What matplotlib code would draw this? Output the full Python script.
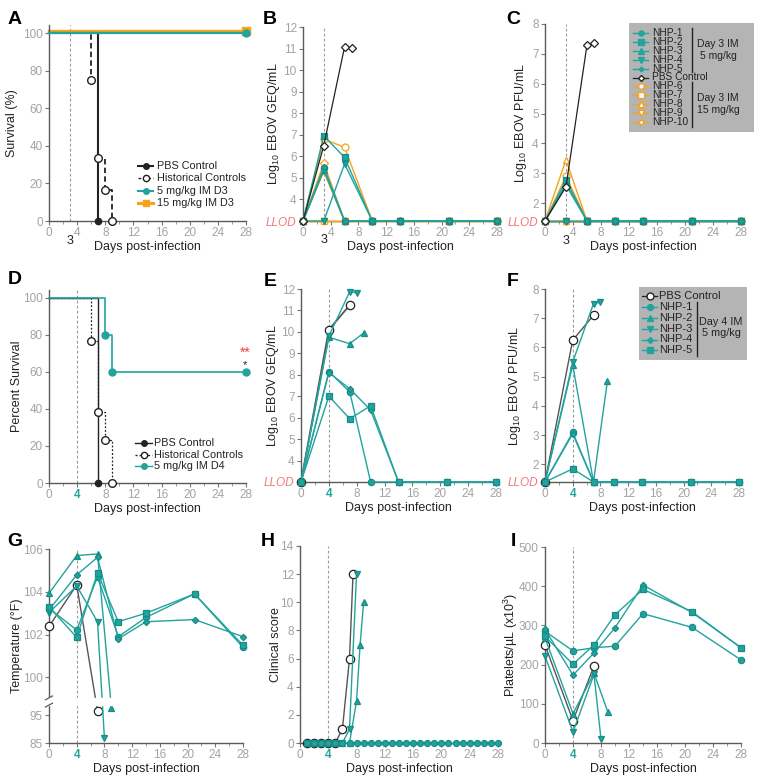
import numpy as np
import matplotlib
matplotlib.use('Agg')
import matplotlib.pyplot as plt
from matplotlib.lines import Line2D
from matplotlib.patches import Rectangle
import matplotlib.transforms as mtransforms

plt.rcParams['font.family'] = ['Liberation Sans', 'DejaVu Sans']
plt.rcParams['mathtext.default'] = 'regular'

TEAL = '#22a39e'
TEAL_E = '#178c87'
ORANGE = '#f5a21c'
BLACK = '#222222'
TICKC = '#a3a3a3'
SPINE = '#5a5a5a'
LLOD_RED = '#f07a7a'
LEG_BG = '#b4b4b4'

# ------------------------------------------------------------------ data
XTICKS = [0, 4, 8, 12, 16, 20, 24, 28]
XMINOR = [2, 6, 10, 14, 18, 22, 26]

# Panel A - survival (day 3 treatment)
A_PBS_DAYS = [0, 7]
A_PBS_SURV = [100, 0]
A_HIST_DAYS = [0, 6, 7, 8, 9]
A_HIST_SURV = [100, 75, 33.3, 16.7, 0]
A_5MG_DAYS = [0, 28]
A_5MG_SURV = [100, 100]
A_15MG_DAYS = [0, 28]
A_15MG_SURV = [100, 100]

# Panel B - GEQ (day 3 study)
B_LLOD = 3.0
B_DAYS = [0, 3, 6, 10, 14, 21, 28]
B_5MG = [[3, 5.45, 3, 3, 3, 3, 3],
         [3, 6.95, 5.95, 3, 3, 3, 3],
         [3, 5.35, 3, 3, 3, 3, 3],
         [3, 3, 5.65, 3, 3, 3, 3],
         [3, 5.5, 3, 3, 3, 3, 3]]
B_15MG = [[3, 6.8, 6.42, 3, 3, 3, 3],
          [3, 3, 3, 3, 3, 3, 3],
          [3, 5.3, 3, 3, 3, 3, 3],
          [3, 3, 3, 3, 3, 3, 3],
          [3, 5.68, 3, 3, 3, 3, 3]]
B_PBS_DAYS = [0, 3, 6, 7]
B_PBS = [3, 6.5, 11.08, 11.03]

# Panel C - PFU (day 3 study)
C_LLOD = 1.4
C_DAYS = [0, 3, 6, 10, 14, 21, 28]
C_5MG = [[1.4, 2.65, 1.4, 1.4, 1.4, 1.4, 1.4],
         [1.4, 2.78, 1.4, 1.4, 1.4, 1.4, 1.4],
         [1.4, 2.6, 1.4, 1.4, 1.4, 1.4, 1.4],
         [1.4, 1.4, 1.4, 1.4, 1.4, 1.4, 1.4],
         [1.4, 1.4, 1.4, 1.4, 1.4, 1.4, 1.4]]
C_15MG = [[1.4, 2.9, 1.4, 1.4, 1.4, 1.4, 1.4],
          [1.4, 1.4, 1.4, 1.4, 1.4, 1.4, 1.4],
          [1.4, 3.45, 1.4, 1.4, 1.4, 1.4, 1.4],
          [1.4, 1.4, 1.4, 1.4, 1.4, 1.4, 1.4],
          [1.4, 1.4, 1.4, 1.4, 1.4, 1.4, 1.4]]
C_PBS_DAYS = [0, 3, 6, 7]
C_PBS = [1.4, 2.55, 7.3, 7.35]

# Panel D - survival (day 4 treatment)
D_PBS_DAYS = [0, 7]
D_PBS_SURV = [100, 0]
D_HIST_DAYS = [0, 6, 7, 8, 9]
D_HIST_SURV = [100, 76.9, 38.5, 23.1, 0]
D_5MG_DAYS = [0, 8, 9, 28]
D_5MG_SURV = [100, 80, 60, 60]

# Panel E - GEQ (day 4 study)
E_LLOD = 3.0
E_DAYS = [0, 4, 7, 10, 14, 21, 28]
E_NHP1 = [3, 8.15, 7.2, 3, 3, 3, 3]
E_NHP2_DAYS = [0, 4, 7, 9]
E_NHP2 = [3, 9.75, 9.45, 9.95]
E_NHP3_DAYS = [0, 4, 7, 8]
E_NHP3 = [3, 9.8, 11.88, 11.82]
E_NHP4 = [3, 8.1, 7.35, 6.35, 3, 3, 3]
E_NHP5 = [3, 7.0, 5.95, 6.55, 3, 3, 3]
E_PBS_DAYS = [0, 4, 7]
E_PBS = [3, 10.1, 11.25]

# Panel F - PFU (day 4 study)
F_LLOD = 1.4
F_DAYS = [0, 4, 7, 10, 14, 21, 28]
F_NHP1 = [1.4, 3.1, 1.4, 1.4, 1.4, 1.4, 1.4]
F_NHP2_DAYS = [0, 4, 7, 9]
F_NHP2 = [1.4, 5.4, 1.4, 4.85]
F_NHP3_DAYS = [0, 4, 7, 8]
F_NHP3 = [1.4, 5.5, 7.5, 7.55]
F_NHP4 = [1.4, 3.05, 1.4, 1.4, 1.4, 1.4, 1.4]
F_NHP5 = [1.4, 1.85, 1.4, 1.4, 1.4, 1.4, 1.4]
F_PBS_DAYS = [0, 4, 7]
F_PBS = [1.4, 6.25, 7.1]

# Panel G - temperature
G_DAYS = [0, 4, 7, 10, 14, 21, 28]
G_NHP1 = [103.23, 102.21, 104.7, 101.9, 102.8, 103.9, 101.4]
G_NHP4 = [103.15, 104.79, 105.61, 101.8, 102.6, 102.7, 101.9]
G_NHP5 = [103.3, 101.87, 104.89, 102.6, 103.0, 103.9, 101.5]
G_NHP2_DAYS = [0, 4, 7, 9]
G_NHP2 = [103.93, 105.69, 105.77, 96.0]
G_NHP3_DAYS = [0, 4, 7, 8]
G_NHP3 = [103.03, 104.27, 102.6, 86.7]
G_PBS_DAYS = [0, 4, 7]
G_PBS = [102.38, 104.32, 95.6]

# Panel H - clinical score
H_DAYS = [1, 2, 3, 4, 5, 6, 7, 8, 9, 10, 11, 12, 13, 14, 15, 16, 17, 18, 19, 20,
          21, 22, 23, 24, 25, 26, 27, 28]
H_SURV = [0, 0, 0, 0, 0, 0, 0, 0, 0, 0, 0, 0, 0, 0, 0, 0, 0, 0, 0, 0,
          0, 0, 0, 0, 0, 0, 0, 0]
H_NHP2_DAYS = [1, 2, 3, 4, 5, 6, 7, 8, 8.5, 9]
H_NHP2 = [0, 0, 0, 0, 0, 0, 0, 3, 7, 10]
H_NHP3_DAYS = [1, 2, 3, 4, 5, 6, 7, 8]
H_NHP3 = [0, 0, 0, 0, 0, 0, 1, 12]
H_PBS_DAYS = [1, 2, 3, 4, 5, 6, 7, 7.5]
H_PBS = [0, 0, 0, 0, 0, 1, 6, 12]

# Panel I - platelets
I_DAYS = [0, 4, 7, 10, 14, 21, 28]
I_NHP1 = [285, 235, 243, 247, 330, 295, 212]
I_NHP4 = [290, 173, 230, 294, 403, 333, 243]
I_NHP5 = [272, 201, 250, 327, 392, 335, 243]
I_NHP2_DAYS = [0, 4, 7, 9]
I_NHP2 = [268, 75, 178, 78]
I_NHP3_DAYS = [0, 4, 7, 8]
I_NHP3 = [222, 28, 175, 10]
I_PBS_DAYS = [0, 4, 7]
I_PBS = [250, 57, 197]

# ------------------------------------------------------------------ figure
W, H = 767, 778
fig = plt.figure(figsize=(W / 100, H / 100), dpi=100)


def add_ax(x0, x1, ytop, ybot):
    return fig.add_axes([x0 / W, 1 - ybot / H, (x1 - x0) / W, (ybot - ytop) / H])


def style(ax, ylim, yticks, ylabels=None, ylabel='', lab_x=-0.1, teal4=False):
    for s in ['top', 'right']:
        ax.spines[s].set_visible(False)
    for s in ['left', 'bottom']:
        ax.spines[s].set_color(SPINE)
        ax.spines[s].set_linewidth(1.0)
    ax.set_xlim(0, 28)
    ax.set_ylim(*ylim)
    ax.set_xticks(XTICKS)
    ax.set_xticks(XMINOR, minor=True)
    ax.set_yticks(yticks)
    if ylabels is not None:
        ax.set_yticklabels(ylabels)
    ax.tick_params(which='major', length=3, width=0.8, color='#777777',
                   labelcolor=TICKC, labelsize=8.5, pad=1.5)
    ax.tick_params(which='minor', length=2, width=0.6, color='#888888')
    ax.set_xlabel('Days post-infection', fontsize=9, color=BLACK, labelpad=1)
    ax.set_ylabel(ylabel, fontsize=9, color=BLACK)
    ax.yaxis.set_label_coords(lab_x, 0.5)
    if teal4:
        lab = ax.get_xticklabels()[1]
        lab.set_color(TEAL)
        lab.set_fontweight('bold')
    ax.patch.set_alpha(0)


def llod(ax):
    lab = ax.get_yticklabels()[0]
    lab.set_color(LLOD_RED)
    lab.set_style('italic')


def vline(ax, x):
    ax.axvline(x, color='#9a9a9a', lw=0.8, ls=(0, (2.5, 2)), zorder=0.5)


def three(ax):
    ax.text(3, -0.1, '3', transform=ax.get_xaxis_transform(), ha='center',
            va='center', fontsize=9, color=BLACK)


def series(ax, x, y, color, marker, ms=4.5, mfc=None, lw=1.0, z=3, mec=None):
    ax.plot(x, y, color=color, lw=lw, marker=marker, ms=ms,
            mfc=color if mfc is None else mfc,
            mec=color if mec is None else mec, mew=0.9, clip_on=False, zorder=z)


def letter(x, y, s):
    fig.text(x / W, 1 - y / H, s, fontsize=14, fontweight='bold', ha='center', va='center')


def leg_box(x0, y0, x1, y1):
    fig.add_artist(Rectangle((x0 / W, 1 - y1 / H), (x1 - x0) / W, (y1 - y0) / H,
                             transform=fig.transFigure, facecolor=LEG_BG,
                             edgecolor='none', zorder=10))


def leg_entry(y, hx0, hx1, tx, label, color, marker, mfc, ms=4.5, ls='-', fs=7.5, lw=1.0, mx=None):
    fy = 1 - y / H
    fig.add_artist(Line2D([hx0 / W, hx1 / W], [fy, fy], transform=fig.transFigure,
                          color=color, lw=lw, ls=ls, zorder=11))
    mxx = (hx0 + hx1) / 2 if mx is None else mx
    fig.add_artist(Line2D([mxx / W], [fy], transform=fig.transFigure, marker=marker,
                          color=color, mfc=mfc, mec=color, ms=ms, ls='none', zorder=12))
    fig.text(tx / W, fy, label, fontsize=fs, va='center', ha='left', color=BLACK, zorder=12)


def bracket(x, y0, y1, lines, tx, ty, pitch, fs=7.5):
    fig.add_artist(Line2D([x / W, x / W], [1 - y0 / H, 1 - y1 / H], transform=fig.transFigure,
                          color=BLACK, lw=1.0, zorder=12))
    for i, t in enumerate(lines):
        fig.text(tx / W, 1 - (ty + i * pitch) / H, t, fontsize=fs, ha='center',
                 va='center', color=BLACK, zorder=12)


MK5_D3 = ['o', 's', '^', 'v', 'D']
MS5_D3 = [4.5, 4.5, 4.5, 4.5, 3.2]

# ------------------------------------------------------------------ A
axA = add_ax(49, 246, 25, 221)
style(axA, (0, 104.3), [0, 20, 40, 60, 80, 100], ylabel='Survival (%)', lab_x=-0.155)
vline(axA, 3)
three(axA)
off = mtransforms.offset_copy(axA.transData, fig=fig, x=0, y=1.6, units='dots')
axA.step(A_15MG_DAYS, A_15MG_SURV, where='post', color=ORANGE, lw=2.4, transform=off, zorder=2, clip_on=False)
axA.plot(A_15MG_DAYS[1:], A_15MG_SURV[1:], 's', color=ORANGE, ms=5.5, transform=off, clip_on=False, zorder=2)
axA.step(A_PBS_DAYS, A_PBS_SURV, where='post', color=BLACK, lw=1.5, zorder=3, clip_on=False)
axA.plot(A_PBS_DAYS[1:], A_PBS_SURV[1:], 'o', color=BLACK, ms=4.5, zorder=5, clip_on=False)
axA.step(A_HIST_DAYS, A_HIST_SURV, where='post', color=BLACK, lw=1.3, ls=(0, (3, 1.8)), zorder=3, clip_on=False)
axA.plot(A_HIST_DAYS[1:], A_HIST_SURV[1:], 'o', color=BLACK, mfc='white', ms=5.5, zorder=5, clip_on=False)
axA.step(A_5MG_DAYS, A_5MG_SURV, where='post', color=TEAL, lw=1.6, zorder=4, clip_on=False)
axA.plot(A_5MG_DAYS[1:], A_5MG_SURV[1:], 'o', color=TEAL, ms=5, zorder=5, clip_on=False)
leg_entry(166, 138, 153, 157, 'PBS Control', BLACK, 'o', BLACK, ms=4, fs=7.8, lw=1.5)
leg_entry(178, 138, 153, 157, 'Historical Controls', BLACK, 'o', 'white', ms=4.5, ls=(0, (2, 1.5)), fs=7.8)
leg_entry(191, 138, 153, 157, '5 mg/kg IM D3', TEAL, 'o', TEAL, ms=4, fs=7.8, lw=1.5)
leg_entry(203, 138, 153, 157, '15 mg/kg IM D3', ORANGE, 's', ORANGE, ms=4.5, fs=7.8, lw=2.2)

# ------------------------------------------------------------------ B
axB = add_ax(303, 497, 27, 221)
style(axB, (3, 12), [3, 4, 5, 6, 7, 8, 9, 10, 11, 12],
      ['LLOD', '4', '5', '6', '7', '8', '9', '10', '11', '12'],
      ylabel='Log$_{10}$ EBOV GEQ/mL', lab_x=-0.108)
llod(axB)
vline(axB, 3)
three(axB)
for vals, mk, ms in zip(B_15MG, MK5_D3, MS5_D3):
    series(axB, B_DAYS, vals, ORANGE, mk, ms=ms + 0.5, mfc='white', z=3)
for vals, mk, ms in zip(B_5MG, MK5_D3, MS5_D3):
    series(axB, B_DAYS, vals, TEAL, mk, ms=ms, z=4, mec=TEAL_E)
series(axB, B_PBS_DAYS, B_PBS, BLACK, 'D', ms=3.8, mfc='white', lw=0.9, z=5)

# ------------------------------------------------------------------ C
axC = add_ax(545, 741, 24, 221)
style(axC, (1.4, 8), [1.4, 2, 3, 4, 5, 6, 7, 8],
      ['LLOD', '2', '3', '4', '5', '6', '7', '8'],
      ylabel='Log$_{10}$ EBOV PFU/mL', lab_x=-0.08)
llod(axC)
vline(axC, 3)
three(axC)
for vals, mk, ms in zip(C_15MG, MK5_D3, MS5_D3):
    series(axC, C_DAYS, vals, ORANGE, mk, ms=ms + 0.5, mfc='white', z=3)
for vals, mk, ms in zip(C_5MG, MK5_D3, MS5_D3):
    series(axC, C_DAYS, vals, TEAL, mk, ms=ms, z=4, mec=TEAL_E)
series(axC, C_PBS_DAYS, C_PBS, BLACK, 'D', ms=3.8, mfc='white', lw=0.9, z=5)

leg_box(629, 23, 754, 132)
rowsC = [33, 41.9, 50.8, 59.7, 68.6, 77.5, 86.4, 95.3, 104.2, 113.1, 122]
for i in range(5):
    leg_entry(rowsC[i], 633, 648, 652, 'NHP-%d' % (i + 1), TEAL, MK5_D3[i], TEAL, ms=MS5_D3[i] - 0.8, fs=7.3)
leg_entry(rowsC[5], 633, 648, 652, 'PBS Control', BLACK, 'D', 'white', ms=3.0, lw=0.9, fs=7.3)
for i in range(5):
    leg_entry(rowsC[6 + i], 633, 648, 652, 'NHP-%d' % (i + 6), ORANGE, MK5_D3[i], 'white', ms=MS5_D3[i] - 0.5, fs=7.3)
bracket(692, 28, 72, ['Day 3 IM', '5 mg/kg'], 718, 44, 12)
bracket(692, 82, 127, ['Day 3 IM', '15 mg/kg'], 718, 98, 12)

# ------------------------------------------------------------------ D
axD = add_ax(49, 246, 290, 483)
style(axD, (0, 104.3), [0, 20, 40, 60, 80, 100], ylabel='Percent Survival', lab_x=-0.132, teal4=True)
vline(axD, 4)
axD.step(D_PBS_DAYS, D_PBS_SURV, where='post', color=BLACK, lw=1.0, zorder=3, clip_on=False)
axD.plot(D_PBS_DAYS[1:], D_PBS_SURV[1:], 'o', color=BLACK, ms=4.5, zorder=5, clip_on=False)
axD.step(D_HIST_DAYS, D_HIST_SURV, where='post', color=BLACK, lw=0.9, ls=(0, (1.5, 1.5)), zorder=3, clip_on=False)
axD.plot(D_HIST_DAYS[1:], D_HIST_SURV[1:], 'o', color=BLACK, mfc='white', ms=5.5, zorder=5, clip_on=False)
axD.step(D_5MG_DAYS, D_5MG_SURV, where='post', color=TEAL, lw=1.2, zorder=4, clip_on=False)
axD.plot(D_5MG_DAYS[1:], D_5MG_SURV[1:], 'o', color=TEAL, ms=5, zorder=5, clip_on=False)
axD.text(27.9, 66.5, '**', color='#f04040', fontsize=10, ha='center', va='bottom', zorder=6)
axD.text(27.9, 66.3, '*', color=BLACK, fontsize=8, ha='center', va='top', zorder=6)
leg_entry(443, 135, 152, 154, 'PBS Control', BLACK, 'o', BLACK, ms=4, fs=7.8)
leg_entry(455, 135, 152, 154, 'Historical Controls', BLACK, 'o', 'white', ms=4.5, ls=(0, (1.5, 1.5)), fs=7.8)
leg_entry(466, 135, 152, 154, '5 mg/kg IM D4', TEAL, 'o', TEAL, ms=4, fs=7.8)

# ------------------------------------------------------------------ E
axE = add_ax(301, 496, 289, 482)
style(axE, (3, 12), [3, 4, 5, 6, 7, 8, 9, 10, 11, 12],
      ['LLOD', '4', '5', '6', '7', '8', '9', '10', '11', '12'],
      ylabel='Log$_{10}$ EBOV GEQ/mL', lab_x=-0.105, teal4=True)
llod(axE)
vline(axE, 4)
series(axE, E_PBS_DAYS, E_PBS, '#555555', 'o', ms=6, mfc='white', mec=BLACK, lw=1.3, z=3)
series(axE, E_DAYS, E_NHP1, TEAL, 'o', mec=TEAL_E, z=4)
series(axE, E_NHP2_DAYS, E_NHP2, TEAL, '^', mec=TEAL_E, z=4)
series(axE, E_NHP3_DAYS, E_NHP3, TEAL, 'v', mec=TEAL_E, z=4)
series(axE, E_DAYS, E_NHP4, TEAL, 'D', ms=3.2, mec=TEAL_E, z=4)
series(axE, E_DAYS, E_NHP5, TEAL, 's', mec=TEAL_E, z=4)

# ------------------------------------------------------------------ F
axF = add_ax(545, 739, 289, 482)
style(axF, (1.4, 8), [1.4, 2, 3, 4, 5, 6, 7, 8],
      ['LLOD', '2', '3', '4', '5', '6', '7', '8'],
      ylabel='Log$_{10}$ EBOV PFU/mL', lab_x=-0.113, teal4=True)
llod(axF)
vline(axF, 4)
series(axF, F_PBS_DAYS, F_PBS, '#555555', 'o', ms=6, mfc='white', mec=BLACK, lw=1.0, z=3)
series(axF, F_DAYS, F_NHP1, TEAL, 'o', mec=TEAL_E, z=4)
series(axF, F_NHP2_DAYS, F_NHP2, TEAL, '^', mec=TEAL_E, z=4)
series(axF, F_NHP3_DAYS, F_NHP3, TEAL, 'v', mec=TEAL_E, z=4)
series(axF, F_DAYS, F_NHP4, TEAL, 'D', ms=3.2, mec=TEAL_E, z=4)
series(axF, F_DAYS, F_NHP5, TEAL, 's', mec=TEAL_E, z=4)

leg_box(639, 287, 747, 360)
rowsF = [296, 307, 318, 329, 339.5, 350]
leg_entry(rowsF[0], 642, 657, 659, 'PBS Control', BLACK, 'o', 'white', ms=5, fs=8, lw=0.9)
MK5_D4 = ['o', '^', 'v', 'D', 's']
MS5_D4 = [4.2, 4.2, 4.2, 3.0, 4.2]
for i in range(5):
    leg_entry(rowsF[i + 1], 642, 657, 659, 'NHP-%d' % (i + 1), TEAL, MK5_D4[i], TEAL, ms=MS5_D4[i], fs=8)
bracket(697, 302, 356, ['Day 4 IM', '5 mg/kg'], 721, 322, 11, fs=7.8)

# ------------------------------------------------------------------ G
def g_fwd(y):
    return np.interp(y, [85, 95, 100, 106], [0, 83, 197, 582])


def g_inv(v):
    return np.interp(v, [0, 83, 197, 582], [85, 95, 100, 106])


axG = add_ax(49, 243, 549, 743)
axG.set_yscale('function', functions=(g_fwd, g_inv))
style(axG, (85, 106), [85, 95, 100, 102, 104, 106], ylabel='Temperature (°F)', lab_x=-0.134, teal4=True)
vline(axG, 4)
series(axG, G_PBS_DAYS, G_PBS, '#555555', 'o', ms=6, mfc='white', mec=BLACK, lw=1.0, z=3)
series(axG, G_DAYS, G_NHP1, TEAL, 'o', mec=TEAL_E, z=4)
series(axG, G_NHP2_DAYS, G_NHP2, TEAL, '^', mec=TEAL_E, z=4)
series(axG, G_NHP3_DAYS, G_NHP3, TEAL, 'v', mec=TEAL_E, z=4)
series(axG, G_DAYS, G_NHP4, TEAL, 'D', ms=3.2, mec=TEAL_E, z=4)
series(axG, G_DAYS, G_NHP5, TEAL, 's', mec=TEAL_E, z=4)
# axis break
axG.axhspan(96.35, 97.3, xmin=-0.02, xmax=1.0, color='white', zorder=6, clip_on=False)
bt = mtransforms.blended_transform_factory(axG.transAxes, axG.transData)
for yb in (96.35, 97.3):
    axG.plot([-0.018, 0.018], [yb - 0.25, yb + 0.25], color=SPINE, lw=0.9, transform=bt,
             clip_on=False, zorder=7)

# ------------------------------------------------------------------ H
axH = add_ax(300, 498, 546, 743)
style(axH, (0, 14), [0, 2, 4, 6, 8, 10, 12, 14], ylabel='Clinical score', lab_x=-0.091, teal4=True)
vline(axH, 4)
series(axH, H_PBS_DAYS, H_PBS, '#555555', 'o', ms=6, mfc='white', mec=BLACK, lw=1.0, z=3)
series(axH, H_NHP2_DAYS, H_NHP2, TEAL, '^', mec=TEAL_E, z=4)
series(axH, H_NHP3_DAYS, H_NHP3, TEAL, 'v', mec=TEAL_E, z=4)
series(axH, H_DAYS, H_SURV, TEAL, 'o', ms=4.3, mec=TEAL_E, z=5)

# ------------------------------------------------------------------ I
axI = add_ax(545, 741, 547, 743)
style(axI, (0, 500), [0, 100, 200, 300, 400, 500], ylabel='Platelets/µL (x10$^3$)', lab_x=-0.128, teal4=True)
vline(axI, 4)
series(axI, I_PBS_DAYS, I_PBS, '#555555', 'o', ms=6, mfc='white', mec=BLACK, lw=1.0, z=3)
series(axI, I_DAYS, I_NHP1, TEAL, 'o', mec=TEAL_E, z=4)
series(axI, I_NHP2_DAYS, I_NHP2, TEAL, '^', mec=TEAL_E, z=4)
series(axI, I_NHP3_DAYS, I_NHP3, TEAL, 'v', mec=TEAL_E, z=4)
series(axI, I_DAYS, I_NHP4, TEAL, 'D', ms=3.2, mec=TEAL_E, z=4)
series(axI, I_DAYS, I_NHP5, TEAL, 's', mec=TEAL_E, z=4)

# ------------------------------------------------------------------ panel letters
letter(15, 20, 'A')
letter(270, 20, 'B')
letter(513, 20, 'C')
letter(15, 280, 'D')
letter(270, 282, 'E')
letter(513, 282, 'F')
letter(15, 542, 'G')
letter(268, 542, 'H')
letter(513, 542, 'I')

fig.savefig('out.png', dpi=100)
